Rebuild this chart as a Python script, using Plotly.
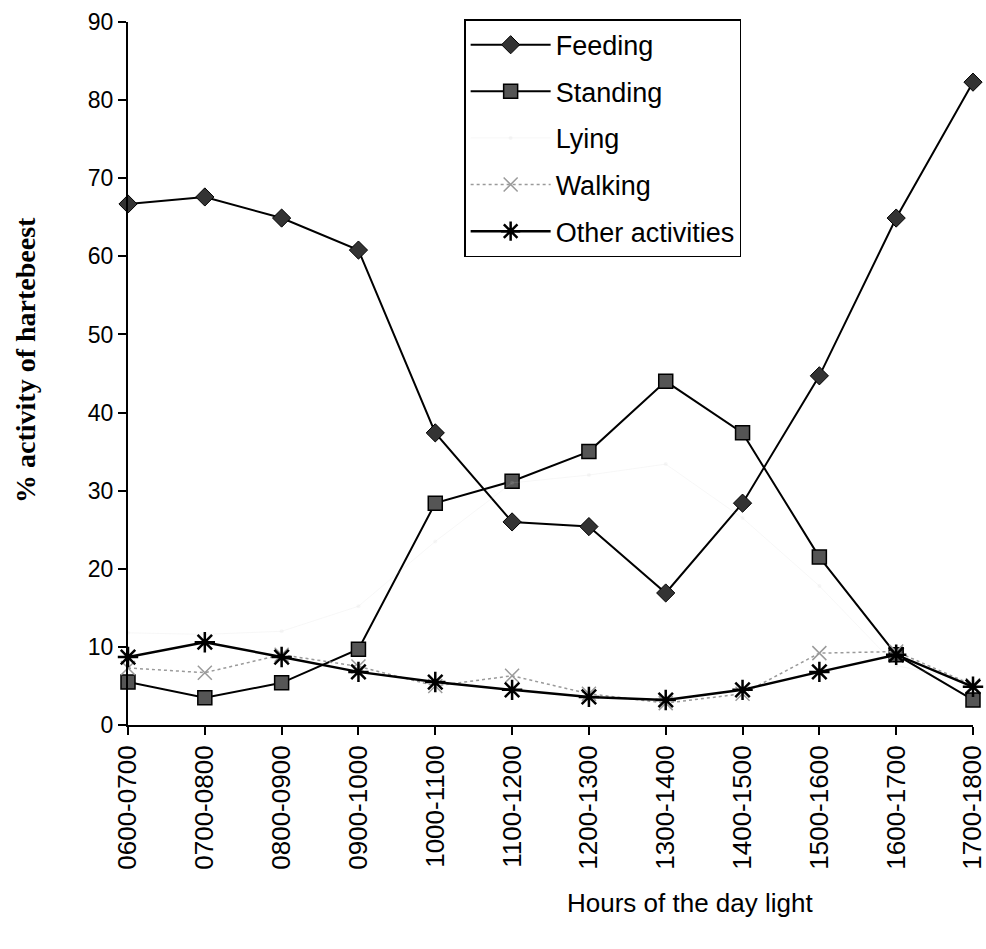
import plotly.graph_objects as go

hours = ["0600-0700", "0700-0800", "0800-0900", "0900-1000", "1000-1100", "1100-1200",
         "1200-1300", "1300-1400", "1400-1500", "1500-1600", "1600-1700", "1700-1800"]
feeding = [66.7, 67.6, 64.9, 60.8, 37.4, 26.0, 25.4, 16.9, 28.4, 44.7, 64.9, 82.3]
standing = [5.5, 3.5, 5.4, 9.7, 28.4, 31.2, 35.0, 44.0, 37.4, 21.5, 9.0, 3.2]
lying = [11.8, 11.6, 12.0, 15.2, 23.5, 31.0, 32.0, 33.4, 26.5, 17.8, 7.6, 5.6]
walking = [7.3, 6.7, 9.0, 7.5, 5.0, 6.3, 4.0, 2.8, 4.0, 9.2, 9.4, 5.1]
other = [8.7, 10.6, 8.7, 6.8, 5.5, 4.5, 3.6, 3.2, 4.5, 6.8, 9.0, 4.9]

fig = go.Figure()
common = dict(mode="lines+markers", cliponaxis=False)
fig.add_trace(go.Scatter(x=hours, y=feeding, name="Feeding", legendgroup="a",
                         line=dict(color="black", width=2),
                         marker=dict(symbol="diamond", size=14, color="#333333",
                                     line=dict(color="black", width=1)), **common))
fig.add_trace(go.Scatter(x=hours, y=standing, name="Standing", legendgroup="b",
                         line=dict(color="black", width=2),
                         marker=dict(symbol="square", size=14, color="#555555",
                                     line=dict(color="black", width=1.5)), **common))
fig.add_trace(go.Scatter(x=hours, y=lying, name="Lying", legendgroup="c",
                         line=dict(color="rgba(200,200,200,0.15)", width=1),
                         marker=dict(symbol="circle", size=4, color="rgba(200,200,200,0.15)"),
                         **common))
fig.add_trace(go.Scatter(x=hours, y=walking, name="Walking", legendgroup="d",
                         line=dict(color="#9a9a9a", width=1.5, dash="dot"),
                         marker=dict(symbol="x-thin-open", size=14,
                                     line=dict(color="#8a8a8a", width=1.5)), **common))
fig.add_trace(go.Scatter(x=hours, y=other, name="Other activities", legendgroup="e",
                         line=dict(color="black", width=2.5),
                         marker=dict(symbol="asterisk-open", size=17,
                                     line=dict(color="black", width=2.5)), **common))

fig.update_layout(
    width=986, height=949,
    margin=dict(l=128, r=13, t=22, b=224, autoexpand=False),
    paper_bgcolor="white", plot_bgcolor="white",
    font=dict(family="Liberation Sans, Arial", color="black", size=20),
    showlegend=True,
    legend=dict(x=0.3978, y=1.004, xanchor="left", yanchor="top",
                bordercolor="black", borderwidth=1.5, bgcolor="white",
                font=dict(size=27, family="Liberation Sans, Arial"),
                tracegroupgap=8.5, itemwidth=80),
    xaxis=dict(type="category", range=[0, 11], showline=True, linecolor="black",
               linewidth=2, ticks="outside", ticklen=8, tickcolor="black",
               tickwidth=1.5, tickangle=-90, tickson="labels", automargin=False,
               tickfont=dict(size=26, family="Liberation Sans, Arial"),
               showgrid=False, zeroline=False),
    yaxis=dict(range=[0, 90], dtick=10, showline=True, linecolor="black", linewidth=2,
               ticks="outside", ticklen=8, tickcolor="black", tickwidth=1.5,
               automargin=False,
               tickfont=dict(size=23, family="Liberation Sans, Arial"),
               showgrid=False, zeroline=False),
    annotations=[
        dict(text="Hours of the day light", xref="paper", yref="paper",
             x=(690 - 128) / 845, y=-(903 - 725) / 703, xanchor="center", yanchor="middle",
             showarrow=False,
             font=dict(size=26, family="Liberation Sans Narrow, Liberation Sans, Arial")),
        dict(text="<b>% activity of hartebeest</b>", xref="paper", yref="paper",
             x=-(128 - 25) / 845, y=(725 - 360) / 703, xanchor="center", yanchor="middle",
             textangle=-90, showarrow=False,
             font=dict(size=28, family="Liberation Serif, Times New Roman")),
    ],
)

fig.write_html("out.html")
